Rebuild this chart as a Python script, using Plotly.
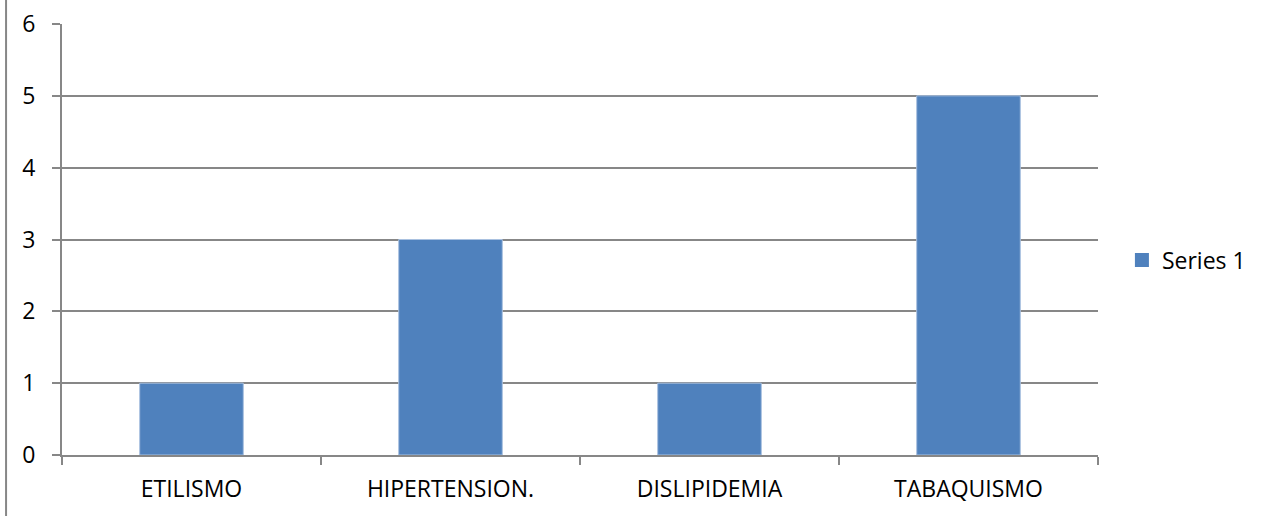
import plotly.graph_objects as go

categories = ["ETILISMO", "HIPERTENSION.", "DISLIPIDEMIA", "TABAQUISMO"]
series_1 = [1, 3, 1, 5]
y_ticks = [0, 1, 2, 3, 4, 5, 6]

bar_color = "#4F81BD"
grid = "#878787"
font = dict(family="Open Sans, Liberation Sans, sans-serif", size=23, color="#000000")

fig = go.Figure()
fig.add_trace(go.Bar(
    x=categories, y=series_1, name="Series 1",
    marker=dict(color=bar_color, line=dict(color="#A9C1E0", width=1)),
    width=0.4, showlegend=False, legendgroup="s1",
))
# legend key with a larger square swatch
fig.add_trace(go.Scatter(
    x=[None], y=[None], mode="markers", name="Series 1", legendgroup="s1",
    marker=dict(symbol="square", size=14, color=bar_color),
    showlegend=True,
))

fig.update_layout(
    width=1262, height=516, autosize=False,
    margin=dict(l=62, r=164, t=24, b=61, autoexpand=False),
    paper_bgcolor="white", plot_bgcolor="white",
    font=font,
    showlegend=True,
    legend=dict(xref="container", yref="container", x=0.889, y=0.496,
                xanchor="left", yanchor="middle", itemsizing="trace",
                font=font, itemwidth=30, bgcolor="rgba(0,0,0,0)"),
    xaxis=dict(
        type="category", tickson="boundaries", ticks="outside",
        ticklen=8, tickcolor=grid, tickwidth=2,
        showline=True, linecolor=grid, linewidth=2, automargin=False,
        showgrid=False, tickfont=font, ticklabelstandoff=12,
    ),
    yaxis=dict(
        range=[0, 6], tickvals=y_ticks, ticks="outside",
        ticklen=8, tickcolor=grid, tickwidth=2,
        showline=True, linecolor=grid, linewidth=2, automargin=False,
        showgrid=True, gridcolor=grid, gridwidth=2,
        zeroline=False, tickfont=font, ticklabelstandoff=12,
    ),
    shapes=[dict(type="line", xref="paper", yref="paper",
                 x0=-0.054, x1=-0.054, y0=-0.2, y1=1.1,
                 line=dict(color="#878787", width=2))],
)

fig.write_html("out.html")
